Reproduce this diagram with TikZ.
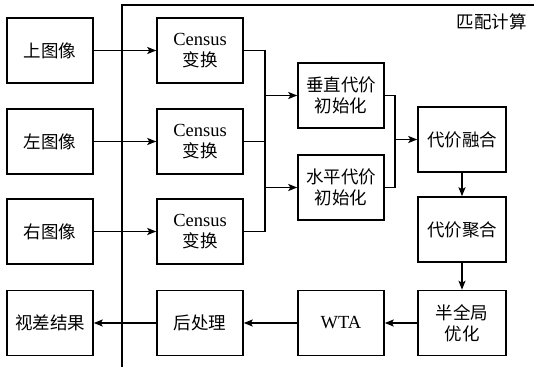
\documentclass[tikz,border=0pt]{standalone}
\usepackage{fontspec}
\setmainfont{Liberation Serif}
\newfontfamily\cjk{Noto Sans CJK SC}
\usetikzlibrary{arrows.meta,positioning}
\newcommand\lat[1]{{\fontsize{18.5}{21}\selectfont #1}}
\begin{document}
\begin{tikzpicture}[x=1pt,y=-1pt,
  line width=1.5pt,
  bx/.style={draw,line width=1.5pt,minimum width=86pt,minimum height=65pt,inner sep=0pt,align=center,font=\fontsize{17.5}{21}\selectfont},
  arr/.style={-{Stealth[length=9pt,width=7pt,inset=2pt]}}]
\useasboundingbox (0,0) rectangle (534,367);
% frame
\coordinate (fb) at (122,367);
\coordinate (ft) at (122,5);
\coordinate (fr) at (534,5);
\draw (fb) -- (ft) -- (fr);
\node[anchor=east,font=\fontsize{17.5}{21}\selectfont\cjk] (title) at (531,22) {匹配计算};
% left column
\node[bx] (l1) at (50,50.5) {\cjk 上图像};
\node[bx] (l2) at (50,141.5) {\cjk 左图像};
\node[bx] (l3) at (50,231.5) {\cjk 右图像};
\node[bx] (res) at (50,323) {\cjk 视差结果};
% census column
\node[bx] (c1) at (200,50.5) {\lat{Census}\\{\cjk 变换}};
\node[bx] (c2) at (200,141.5) {\lat{Census}\\{\cjk 变换}};
\node[bx] (c3) at (200,231.5) {\lat{Census}\\{\cjk 变换}};
\node[bx] (post) at (200,323) {\cjk 后处理};
% init column
\node[bx] (v) at (341,95.5) {\cjk 垂直代价\\\cjk 初始化};
\node[bx] (h) at (341,187.5) {\cjk 水平代价\\\cjk 初始化};
\node[bx] (wta) at (341,323) {\lat{WTA}};
% right column
\node[bx,minimum width=88pt] (fuse) at (462,139.5) {\cjk 代价融合};
\node[bx,minimum width=88pt] (agg) at (462,229.5) {\cjk 代价聚合};
\node[bx,minimum width=88pt] (sgm) at (462,323) {\cjk 半全局\\\cjk 优化};
% connectors
\draw[arr] (l1.east) -- (c1.west);
\draw[arr] (l2.east) -- (c2.west);
\draw[arr] (l3.east) -- (c3.west);
\coordinate (ja) at (265,95.5);
\coordinate (jb) at (265,187.5);
\draw (c1.east) -| (ja);
\draw (c2.east) -| (ja);
\draw (c2.east) -| (jb);
\draw (c3.east) -| (jb);
\draw[arr] (ja) -- (v.west);
\draw[arr] (jb) -- (h.west);
\coordinate (jc) at (395,139.5);
\draw (v.east) -| (jc);
\draw (h.east) -| (jc);
\draw[arr] (jc) -- (fuse.west);
\draw[arr] (fuse.south) -- (agg.north);
\draw[arr] (agg.south) -- (sgm.north);
\draw[arr] (sgm.west) -- (wta.east);
\draw[arr] (wta.west) -- (post.east);
\draw[arr] (post.west) -- (res.east);
\end{tikzpicture}
\end{document}
